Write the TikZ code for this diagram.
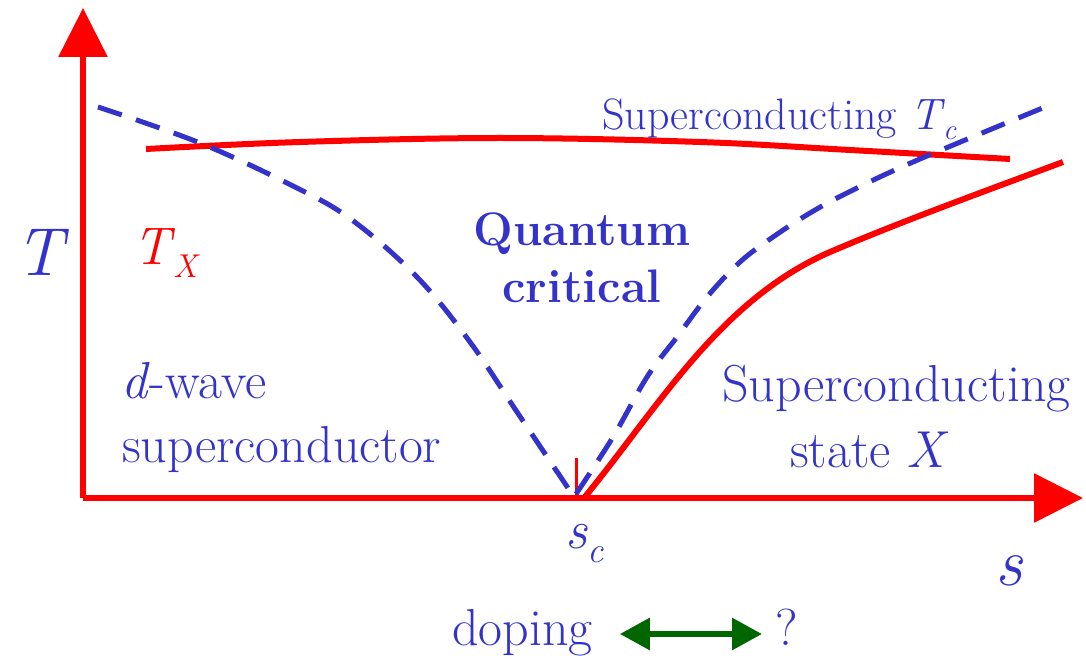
\documentclass[tikz,border=0pt]{standalone}
\usepackage{fontspec}
\usetikzlibrary{arrows.meta}
\definecolor{qblue}{RGB}{51,51,204}
\definecolor{qred}{RGB}{255,0,0}
\definecolor{qgreen}{RGB}{0,102,0}
\newcommand{\setfs}[1]{\fontsize{#1}{#1}\selectfont}
\begin{document}
\begin{tikzpicture}[x=1pt,y=-1pt,>={Triangle[length=49pt,width=48pt]},
  axis/.style={qred,line width=6pt},
  redcurve/.style={qred,line width=6pt},
  bluedash/.style={qblue,line width=5pt,dash pattern=on 25pt off 15pt},
  lbl/.style={qblue,inner sep=0pt,anchor=base west}]
  \useasboundingbox (0,0) rectangle (1086,660);
  \coordinate (O) at (83,498);
  \coordinate (Ttip) at (83,8);
  \coordinate (stip) at (1083,498);
  \coordinate (sc) at (576,498);
  \draw[axis,->] (O) -- (Ttip);
  \draw[axis,->] (O) -- (stip);
  \draw[qred,line width=3pt] (sc) -- ++(0,-40);
  % curves
  \draw[redcurve] plot[smooth,tension=0.6] coordinates {(146,149) (300,142) (500,138) (700,142) (850,150) (1010,159)};
  \draw[redcurve] (584,498) .. controls (660,405) and (720,300) .. (830,252)
    .. controls (900,222) and (980,193) .. (1063,162);
  \draw[bluedash] plot[smooth,tension=0.6] coordinates {(98,107) (200,143) (295,187) (352,220) (417,277) (470,342) (517,412) (572,494)};
  \draw[bluedash] plot[smooth,tension=0.6] coordinates {(576,494) (613,437) (647,377) (677,337) (707,297) (740,262) (773,237) (810,213) (847,193) (913,162) (1045,107)};
  % labels
  \node[lbl] (Tlbl) at (15,275) {\setfs{68}\textit{T}};
  \node[lbl,qred] (TX) at (133,265) {\setfs{53}\textit{T}\kern-2pt\raisebox{-13pt}{\setfs{33}\textit{X}}};
  \node[lbl,anchor=base] (qc1) at (582,246) {\setfs{47}\bfseries Quantum};
  \node[lbl,anchor=base] (qc2) at (582,302) {\setfs{47}\bfseries critical};
  \node[lbl] (dw1) at (121,398) {\setfs{52}\textit{d}-wave};
  \node[lbl] (dw2) at (122,462) {\setfs{52}superconductor};
  \node[lbl] (sx1) at (722,401) {\setfs{52}Superconducting};
  \node[lbl] (sx2) at (790,467) {\setfs{52}state \textit{X}};
  \node[lbl] (tc) at (602,130) {\setfs{44}Superconducting \textit{T}\kern-2pt\raisebox{-10pt}{\setfs{29}\textit{c}}};
  \node[lbl] (sclbl) at (565,548) {\setfs{55}\textit{s}\raisebox{-14pt}{\setfs{36}\textit{c}}};
  \node[lbl] (slbl) at (995,585) {\setfs{68}\textit{s}};
  \node[lbl] (dop) at (452,645) {\setfs{52}doping};
  \node[lbl] (qm) at (775,645) {\setfs{52}?};
  \draw[qgreen,line width=6pt,{Triangle[length=30pt,width=31pt]}-{Triangle[length=30pt,width=31pt]}]
    ([xshift=27pt,yshift=11pt]dop.base east) -- ([xshift=-13pt,yshift=11pt]qm.base west);
\end{tikzpicture}
\end{document}
